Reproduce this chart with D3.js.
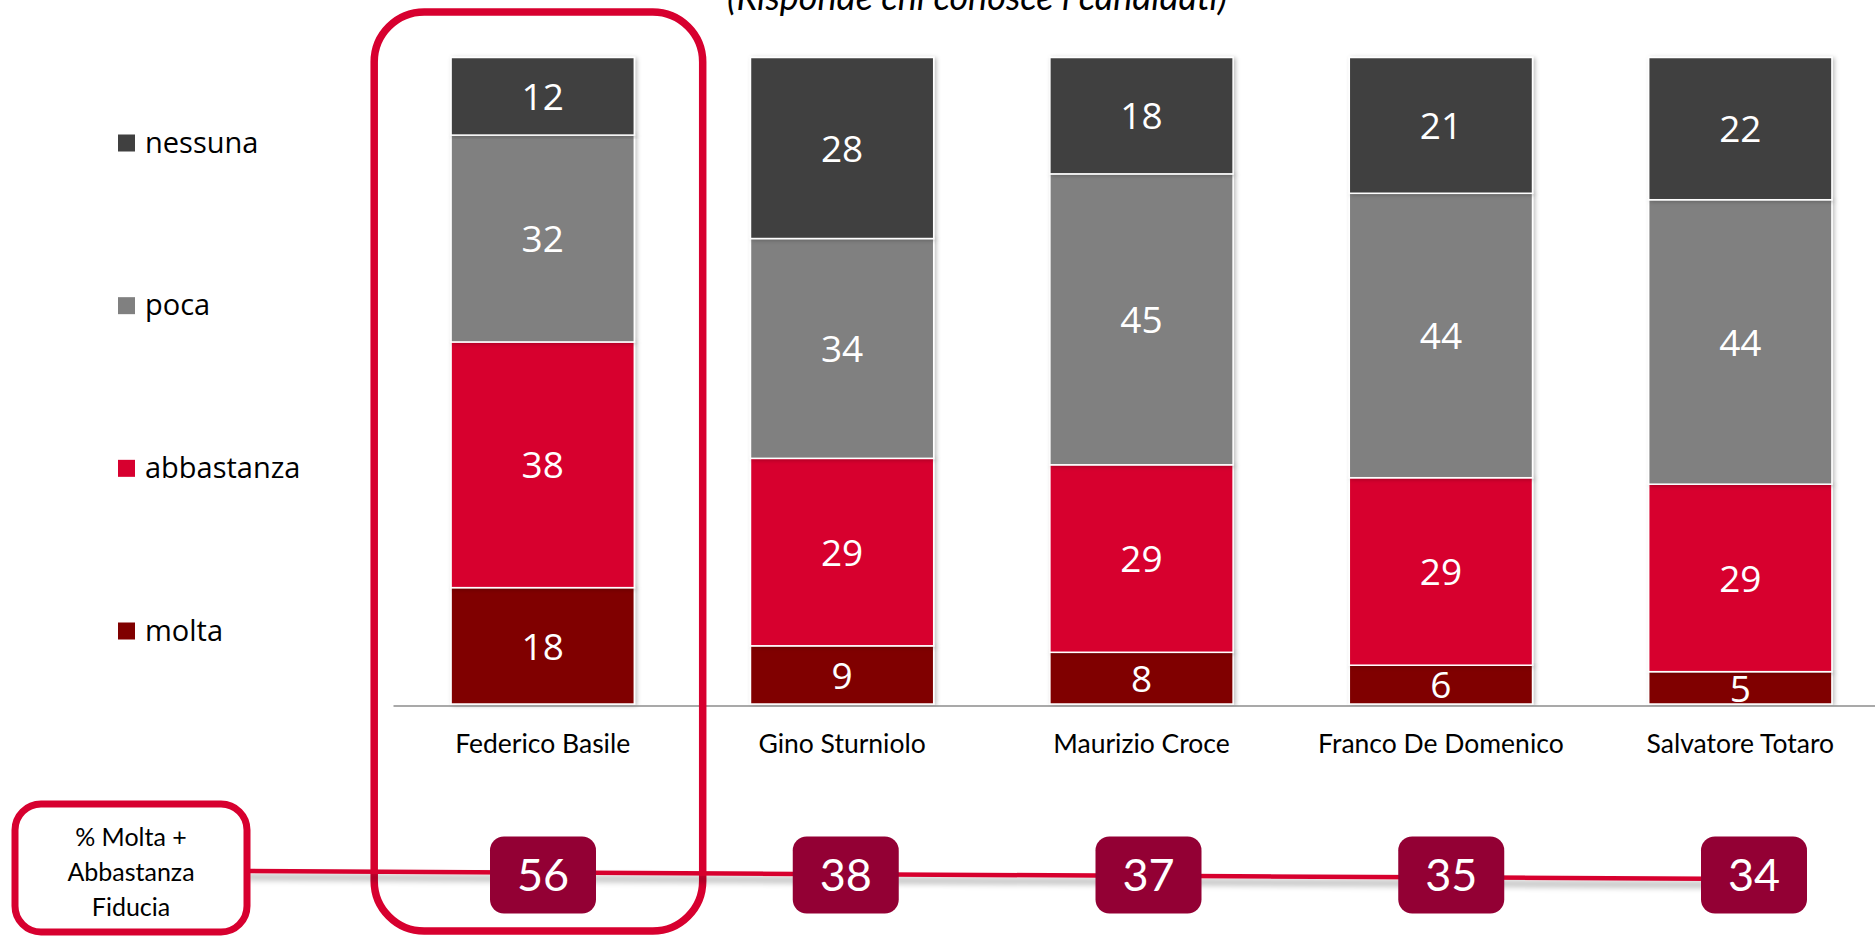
<!DOCTYPE html>
<html>
<head>
<meta charset="utf-8">
<script src="https://cdn.jsdelivr.net/npm/d3@7"></script>
<style>
  html, body { margin: 0; padding: 0; background: #fff; }
  svg { display: block; }
</style>
</head>
<body>
<div id="chart"></div>
<script>
const candidates = ['Federico Basile', 'Gino Sturniolo', 'Maurizio Croce', 'Franco De Domenico', 'Salvatore Totaro'];
const levels = ['molta', 'abbastanza', 'poca', 'nessuna'];
const molta = [18, 9, 8, 6, 5];
const abbastanza = [38, 29, 29, 29, 29];
const poca = [32, 34, 45, 44, 44];
const nessuna = [12, 28, 18, 21, 22];
const summary = [56, 38, 37, 35, 34];
const summaryLabel = ['% Molta +', 'Abbastanza', 'Fiducia'];
const subtitle = '(Risponde chi conosce i candidati)';

const colors = {
  molta: '#800000',
  abbastanza: '#D7002F',
  poca: '#808080',
  nessuna: '#404040'
};
const accent = '#D7002F';
const boxFill = '#930034';

const width = 1875;
const height = 937;

const svg = d3.select('#chart')
  .append('svg')
  .attr('width', width)
  .attr('height', height)
  .attr('viewBox', `0 0 ${width} ${height}`);

const defs = svg.append('defs');
defs.append('filter')
  .attr('id', 'barShadow')
  .attr('x', '-10%').attr('y', '-5%').attr('width', '130%').attr('height', '110%')
  .append('feDropShadow')
  .attr('dx', 2).attr('dy', 1).attr('stdDeviation', 2)
  .attr('flood-color', '#000').attr('flood-opacity', 0.25);
defs.append('filter')
  .attr('id', 'lineShadow')
  .attr('x', '-5%').attr('y', '-400%').attr('width', '110%').attr('height', '900%')
  .append('feDropShadow')
  .attr('dx', 0).attr('dy', 6).attr('stdDeviation', 3)
  .attr('flood-color', '#000').attr('flood-opacity', 0.35);

// rows for the stack
const table = candidates.map((c, i) => ({
  name: c,
  molta: molta[i],
  abbastanza: abbastanza[i],
  poca: poca[i],
  nessuna: nessuna[i]
}));
const series = d3.stack().keys(levels)(table);

const x = d3.scaleBand()
  .domain(candidates)
  .range([393, 1890])
  .paddingInner(0.388)
  .paddingOuter(0.194);

const y = d3.scaleLinear()
  .domain([0, 100])
  .range([704, 57.5]);

// subtitle (cut by the top edge as in the slide)
svg.append('text')
  .attr('x', 977)
  .attr('y', 10)
  .attr('text-anchor', 'middle')
  .style('font-family', 'Lato, sans-serif')
  .style('font-style', 'italic')
  .style('font-size', '36px')
  .style('fill', '#000')
  .text(subtitle);

// stacked bars
const bars = svg.append('g');
bars.selectAll('g.series')
  .data(series)
  .join('g')
  .attr('class', 'series')
  .style('fill', d => colors[d.key])
  .selectAll('rect')
  .data(d => d)
  .join('rect')
  .attr('x', d => x(d.data.name))
  .attr('y', d => y(d[1]))
  .attr('width', x.bandwidth())
  .attr('height', d => y(d[0]) - y(d[1]))
  .style('stroke', '#fff')
  .style('stroke-width', 1.5)
  .attr('filter', 'url(#barShadow)');

bars.selectAll('g.labels')
  .data(series)
  .join('g')
  .attr('class', 'labels')
  .selectAll('text')
  .data(d => d)
  .join('text')
  .attr('x', d => x(d.data.name) + x.bandwidth() / 2)
  .attr('y', d => (y(d[0]) + y(d[1])) / 2)
  .attr('dy', '0.37em')
  .attr('text-anchor', 'middle')
  .style('font-family', '"Open Sans", sans-serif')
  .style('font-size', '37px')
  .style('fill', '#fff')
  .text(d => d[1] - d[0]);

// category axis
const axis = svg.append('g')
  .attr('transform', `translate(0,${y(0) + 1.5})`)
  .call(d3.axisBottom(x).tickSize(0).tickSizeOuter(0));
axis.select('.domain')
  .style('stroke', '#8c8c8c')
  .style('stroke-width', 1.5);
axis.selectAll('text')
  .attr('y', 38)
  .attr('dy', '0.35em')
  .style('font-family', 'Lato, sans-serif')
  .style('font-size', '26.5px')
  .style('fill', '#000');

// legend
const legendY = d3.scalePoint()
  .domain(levels.slice().reverse())
  .range([143, 631]);
const legend = svg.append('g')
  .selectAll('g')
  .data(levels)
  .join('g')
  .attr('transform', d => `translate(118,${legendY(d)})`);
legend.append('rect')
  .attr('x', 0)
  .attr('y', -8.5)
  .attr('width', 17)
  .attr('height', 17)
  .style('fill', d => colors[d]);
legend.append('text')
  .attr('x', 27)
  .attr('dy', '0.33em')
  .style('font-family', '"Open Sans", sans-serif')
  .style('font-size', '29px')
  .style('fill', '#000')
  .text(d => d);

// highlight around the first candidate
const hx = x(candidates[0]) + x.bandwidth() / 2;
svg.append('rect')
  .attr('x', hx - 168.5)
  .attr('y', 12)
  .attr('width', 328.5)
  .attr('height', 919)
  .attr('rx', 50)
  .style('fill', 'none')
  .style('stroke', accent)
  .style('stroke-width', 7.5);

// summary row
const sx = d3.scalePoint()
  .domain(candidates)
  .range([543, 1754]);
const rowY = 875;

svg.append('line')
  .attr('x1', 247)
  .attr('y1', 871)
  .attr('x2', sx(candidates[candidates.length - 1]))
  .attr('y2', 879)
  .style('stroke', accent)
  .style('stroke-width', 4.5)
  .attr('filter', 'url(#lineShadow)');

const labelBox = svg.append('g');
labelBox.append('rect')
  .attr('x', 15)
  .attr('y', 804)
  .attr('width', 232)
  .attr('height', 128)
  .attr('rx', 26)
  .style('fill', '#fff')
  .style('stroke', accent)
  .style('stroke-width', 7);
labelBox.selectAll('text')
  .data(summaryLabel)
  .join('text')
  .attr('x', 131)
  .attr('y', (d, i) => 837 + i * 35)
  .attr('dy', '0.35em')
  .attr('text-anchor', 'middle')
  .style('font-family', 'Lato, sans-serif')
  .style('font-size', '25px')
  .style('fill', '#000')
  .text(d => d);

const boxes = svg.append('g')
  .selectAll('g')
  .data(candidates)
  .join('g')
  .attr('transform', d => `translate(${sx(d)},${rowY})`);
boxes.append('rect')
  .attr('x', -53)
  .attr('y', -38.5)
  .attr('width', 106)
  .attr('height', 77)
  .attr('rx', 14)
  .style('fill', boxFill);
boxes.append('text')
  .attr('dy', '0.36em')
  .attr('text-anchor', 'middle')
  .style('font-family', 'Lato, sans-serif')
  .style('font-size', '45px')
  .style('fill', '#fff')
  .text((d, i) => summary[i]);
</script>
</body>
</html>
